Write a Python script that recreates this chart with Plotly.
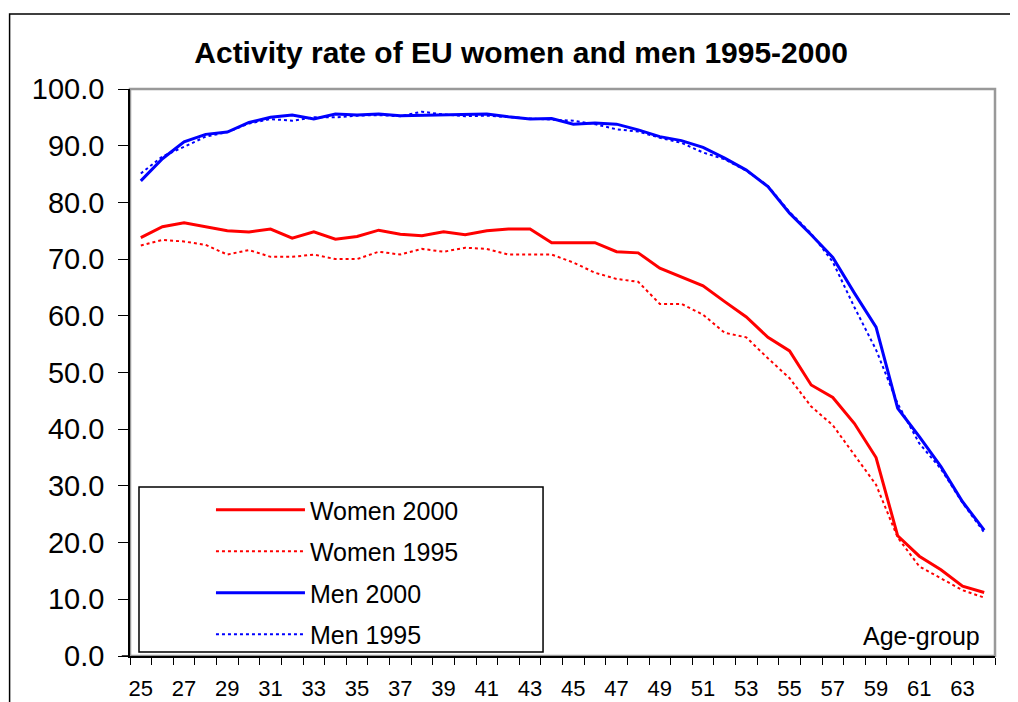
import plotly.graph_objects as go

ages = list(range(25, 65))

women_2000 = [73.8, 75.7, 76.4, 75.7, 75.0, 74.8, 75.3, 73.7, 74.8, 73.5,
              74.0, 75.1, 74.4, 74.1, 74.8, 74.3, 75.0, 75.3, 75.3, 72.9,
              72.9, 72.9, 71.3, 71.1, 68.4, 66.8, 65.3, 62.5, 59.8, 56.2,
              53.8, 47.8, 45.6, 41.0, 35.0, 21.2, 17.6, 15.2, 12.3, 11.2]

women_1995 = [72.4, 73.4, 73.1, 72.5, 70.8, 71.6, 70.4, 70.4, 70.8, 70.0,
              70.0, 71.3, 70.8, 71.8, 71.3, 72.0, 71.8, 70.8, 70.8, 70.8,
              69.4, 67.6, 66.5, 66.0, 62.1, 62.1, 60.2, 57.0, 56.2, 52.5,
              49.0, 44.0, 40.7, 35.4, 30.2, 20.9, 15.8, 13.7, 11.6, 10.3]

men_2000 = [83.8, 87.7, 90.7, 92.0, 92.4, 94.1, 95.0, 95.4, 94.7, 95.6,
            95.4, 95.6, 95.3, 95.4, 95.5, 95.5, 95.6, 95.1, 94.7, 94.8,
            93.8, 94.0, 93.8, 92.8, 91.6, 90.9, 89.7, 87.8, 85.7, 82.8,
            78.1, 74.3, 70.3, 64.0, 58.0, 43.7, 38.7, 33.4, 27.2, 22.2]

men_1995 = [85.1, 88.1, 89.8, 91.6, 92.4, 93.9, 94.7, 94.4, 95.0, 95.0,
            95.3, 95.4, 95.2, 96.0, 95.5, 95.2, 95.3, 95.0, 94.8, 94.6,
            94.4, 93.8, 92.9, 92.5, 91.4, 90.5, 88.8, 87.6, 85.6, 82.9,
            78.3, 74.5, 69.5, 61.5, 54.0, 44.5, 37.5, 33.0, 27.0, 21.8]

x_labels = list(range(25, 64, 2))
y_ticks = [0, 10, 20, 30, 40, 50, 60, 70, 80, 90, 100]

RED = "#FF0000"
BLUE = "#0000FF"
FONT = "Liberation Sans, Arial, sans-serif"

fig = go.Figure()
series = [
    ("Women 2000", women_2000, RED, "solid", 3),
    ("Women 1995", women_1995, RED, "dot", 2),
    ("Men 2000", men_2000, BLUE, "solid", 3),
    ("Men 1995", men_1995, BLUE, "dot", 2),
]
for i, (name, vals, col, dash, w) in enumerate(series):
    fig.add_trace(go.Scatter(
        x=ages, y=vals, name=name, mode="lines",
        line=dict(color=col, width=w, dash=dash),
        legendgroup=f"g{i}",
    ))

fig.update_layout(
    width=1018, height=702,
    margin=dict(l=122, r=31, t=81, b=54, autoexpand=False),
    paper_bgcolor="white", plot_bgcolor="white",
    font=dict(family=FONT, color="black"),
    title=dict(
        text="<b>Activity rate of EU women and men 1995-2000</b>",
        x=0.504, xanchor="center", y=0.936, yanchor="middle",
        font=dict(family=FONT, size=30, color="black"),
    ),
    showlegend=True,
    legend=dict(
        x=0.0936, xanchor="left", y=0.298, yanchor="top",
        borderwidth=0, bgcolor="rgba(0,0,0,0)",
        font=dict(family=FONT, size=25, color="black"),
        itemwidth=89, tracegroupgap=6,
    ),
    xaxis=dict(
        range=[24.5, 64.5], showgrid=False, zeroline=False, automargin=False,
        showline=True, linecolor="black", linewidth=1.5,
        tickmode="array", tickvals=x_labels, ticktext=[str(v) for v in x_labels],
        ticks="outside", ticklen=7, tickcolor="rgba(0,0,0,0)",
        tickfont=dict(family=FONT, size=22, color="black"),
        ticklabelstandoff=5,
        minor=dict(tickmode="array", tickvals=[a - 0.5 for a in ages] + [64.5],
                   ticks="outside", ticklen=7, tickcolor="black", tickwidth=1, showgrid=False),
    ),
    yaxis=dict(
        range=[0, 100], showgrid=False, zeroline=False, automargin=False,
        showline=True, linecolor="black", linewidth=1.5,
        tickmode="array", tickvals=y_ticks, tickformat=".1f",
        ticks="outside", ticklen=10, tickcolor="black", tickwidth=1,
        tickfont=dict(family=FONT, size=29, color="black"),
        ticklabelstandoff=8,
    ),
    shapes=[
        dict(type="rect", xref="paper", yref="paper", x0=0, x1=1, y0=0, y1=1,
             line=dict(color="#999999", width=2.5), layer="below"),
        dict(type="rect", xref="paper", yref="paper", x0=-0.1392, x1=1.0197,
             y0=-0.1, y1=1.1323, line=dict(color="black", width=1.5), layer="below"),
        dict(type="rect", xref="paper", yref="paper", x0=0.0104, x1=0.4775,
             y0=0.00705, y1=0.298, line=dict(color="black", width=1.5),
             fillcolor="white", layer="below"),
        dict(type="line", xref="paper", yref="paper", x0=-0.0095, x1=0,
             y0=0, y1=0, line=dict(color="black", width=1.5)),
    ],
    annotations=[
        dict(text="Age-group", xref="paper", yref="paper", x=0.985, y=0.035,
             xanchor="right", yanchor="middle", showarrow=False,
             font=dict(family=FONT, size=25, color="black")),
    ],
)

fig.write_html("out.html")
